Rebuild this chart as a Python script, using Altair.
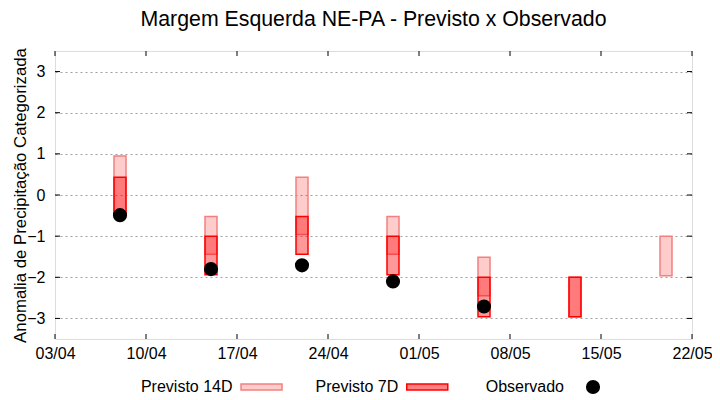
import altair as alt
import pandas as pd

# ---- data ----
dates = ["2025-04-08", "2025-04-15", "2025-04-22", "2025-04-29",
         "2025-05-06", "2025-05-13", "2025-05-20"]
p14_low = [-0.50, -1.44, -0.96, -1.44, -2.45, -2.96, -1.96]
p14_high = [0.95, -0.52, 0.43, -0.52, -1.51, -2.00, -1.00]

p7_dates = ["2025-04-08", "2025-04-15", "2025-04-22", "2025-04-29",
            "2025-05-06", "2025-05-13"]
p7_low = [-0.50, -1.94, -1.44, -1.94, -2.96, -2.96]
p7_high = [0.43, -1.00, -0.52, -1.00, -2.00, -2.00]

obs_dates = ["2025-04-08", "2025-04-15", "2025-04-22", "2025-04-29", "2025-05-06"]
obs_vals = [-0.49, -1.80, -1.71, -2.10, -2.71]

xtick_dates = ["2025-04-03", "2025-04-10", "2025-04-17", "2025-04-24",
               "2025-05-01", "2025-05-08", "2025-05-15", "2025-05-22"]
ytick_vals = [-3, -2, -1, 0, 1, 2, 3]
legend_labels = ["Previsto 14D", "Previsto 7D", "Observado"]

title_text = "Margem Esquerda NE-PA - Previsto x Observado"
ytitle = "Anomalia de Precipitação Categorizada"

# ---- tables ----
loc = lambda s: s + "T00:00:00"
df14 = pd.DataFrame({"date": [loc(d) for d in dates], "low": p14_low, "high": p14_high})
df7 = pd.DataFrame({"date": [loc(d) for d in p7_dates], "low": p7_low, "high": p7_high})
dfo = pd.DataFrame({"date": [loc(d) for d in obs_dates], "val": obs_vals})
dfxt = pd.DataFrame({"date": [loc(d) for d in xtick_dates]})
dfyt = pd.DataFrame({"val": ytick_vals})
dfleg = pd.DataFrame({"label": legend_labels})

W, H = 637, 288
FONT = "Liberation Sans"


def dt(s):
    t = pd.Timestamp(s)
    return alt.DateTime(year=t.year, month=t.month, date=t.day)


xscale = alt.Scale(domain=[dt(xtick_dates[0]), dt(xtick_dates[-1])], padding=0, nice=False)
yscale = alt.Scale(domain=[-3.5, 3.5], nice=False, zero=False, padding=0)

xaxis = alt.Axis(values=[dt(d) for d in xtick_dates], format="%d/%m", ticks=False,
                 domain=False, grid=False, labelFontSize=16, labelFont=FONT,
                 labelColor="black", labelPadding=6, labelFlush=False, title=None)
yaxis = alt.Axis(values=ytick_vals, ticks=False, domain=False, grid=True,
                 gridDash=[2, 3], gridColor="#a0a0a0", gridWidth=1, gridOpacity=1,
                 labelFontSize=16, labelFont=FONT, labelColor="black", labelPadding=10,
                 title=ytitle, titleFontSize=16.8, titleFont=FONT, titleFontWeight="normal",
                 titleColor="black", titlePadding=-3)

X = alt.X("date:T", scale=xscale, axis=xaxis, title=None)


def Y(field):
    return alt.Y(field, type="quantitative", scale=yscale, axis=yaxis, title=ytitle)


bars14 = alt.Chart(df14).mark_bar(
    size=12, fill="#ff0000", fillOpacity=0.2, stroke="#f28080", strokeWidth=1.5
).encode(x=X, y=Y("low"), y2="high:Q")

bars7 = alt.Chart(df7).mark_bar(
    size=12, fill="#ff0000", fillOpacity=0.4, stroke="#ff0000", strokeWidth=1.5
).encode(x=X, y=Y("low"), y2="high:Q")

dots = alt.Chart(dfo).mark_circle(size=200, color="black", opacity=1).encode(
    x=X, y=Y("val"))

ytick_l = alt.Chart(dfyt).mark_rule(color="black", strokeWidth=1).encode(
    y=Y("val"), x=alt.value(0), x2=alt.value(5))
ytick_r = alt.Chart(dfyt).mark_rule(color="black", strokeWidth=1).encode(
    y=Y("val"), x=alt.value(W - 5), x2=alt.value(W))
xtick_b = alt.Chart(dfxt).mark_rule(color="black", strokeWidth=1).encode(
    x=X, y=alt.value(H - 5), y2=alt.value(H))
xtick_t = alt.Chart(dfxt).mark_rule(color="black", strokeWidth=1).encode(
    x=X, y=alt.value(0), y2=alt.value(5))

data_layer = alt.layer(bars14, bars7, dots, ytick_l, ytick_r, xtick_b, xtick_t)

# ---- legend below the plot ----
LX = alt.X("label:N", scale=alt.Scale(type="point", domain=legend_labels,
                                      padding=0.9216, align=0.676), axis=None)
LY = alt.value(H + 48)
swatch = "M-1,-0.146L1,-0.146L1,0.146L-1,0.146Z"

leg_text = alt.Chart(dfleg).mark_text(
    align="right", baseline="middle", dx=-29, fontSize=16, font=FONT, color="black"
).encode(x=LX, y=LY, text="label:N")

leg14 = alt.Chart(dfleg).transform_filter(
    alt.datum.label == legend_labels[0]
).mark_point(shape=swatch, size=1681, filled=True, fill="#ffcccc", stroke="#f28080",
             strokeWidth=1.5, opacity=1).encode(x=LX, y=LY)

leg7 = alt.Chart(dfleg).transform_filter(
    alt.datum.label == legend_labels[1]
).mark_point(shape=swatch, size=1681, filled=True, fill="#ff8080", stroke="#ff0000",
             strokeWidth=1.5, opacity=1).encode(x=LX, y=LY)

legobs = alt.Chart(dfleg).transform_filter(
    alt.datum.label == legend_labels[2]
).mark_circle(size=200, color="black", opacity=1).encode(x=LX, y=LY)

legend_layer = alt.layer(leg_text, leg14, leg7, legobs)

chart = alt.layer(data_layer, legend_layer).resolve_scale(x="independent").properties(
    width=W, height=H,
    title=alt.TitleParams(title_text, fontSize=21.3, font=FONT, fontWeight="normal",
                          anchor="middle", offset=0, baseline="alphabetic",
                          color="black"),
    autosize=alt.AutoSizeParams(type="none"),
    padding={"left": 47, "top": 43, "right": 20, "bottom": 58},
).configure_view(stroke="black", strokeWidth=1).configure(background="white")

chart.save("out.html", embed_options={"renderer": "svg", "actions": False})
